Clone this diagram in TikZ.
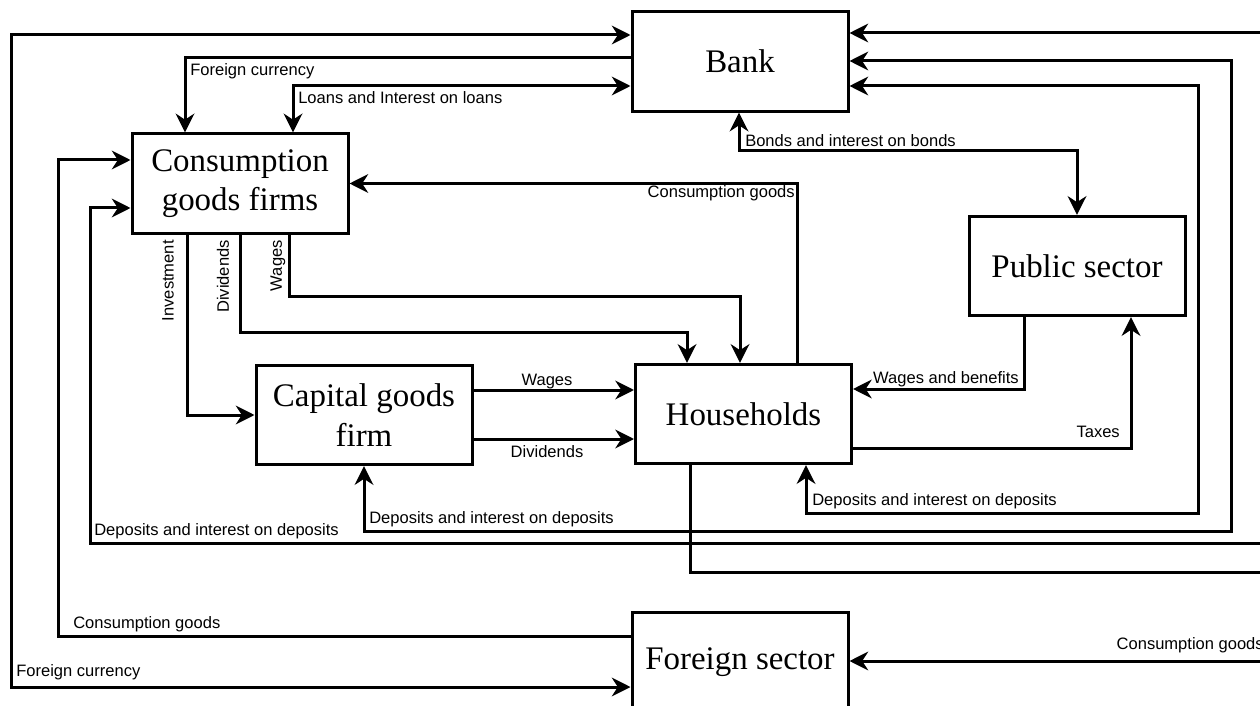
\documentclass[tikz,border=0pt]{standalone}
\usepackage{fontspec}
\setmainfont{Liberation Serif}
\newfontfamily\lblfont{Liberation Sans}
\usetikzlibrary{arrows.meta}
\begin{document}
\begin{tikzpicture}[x=0.75pt,y=-0.75pt,
  box/.style={draw, line width=2.25pt, minimum width=162pt, minimum height=74.5pt, inner sep=0pt, align=center, font=\fontsize{24.7}{29.5}\selectfont},
  conn/.style={line width=2.25pt},
  arr/.style={conn, -{Stealth[length=14pt,width=14pt,inset=4.5pt]}},
  barr/.style={conn, {Stealth[length=14pt,width=14pt,inset=4.5pt]}-{Stealth[length=14pt,width=14pt,inset=4.5pt]}},
  lbl/.style={font=\lblfont\fontsize{12.4}{14}\selectfont, inner sep=0pt},
]
\useasboundingbox (0,0) rectangle (1260,706);

% boxes
\node[box] (bank) at (740,61.5) {Bank};
\node[box] (cons) at (240,183.5) {Consumption\\goods firms};
\node[box] (cap)  at (364,415) {Capital goods\\firm};
\node[box] (hh)   at (743.5,414) {Households};
\node[box] (pub)  at (1077,266) {Public sector};
\node[box] (for)  at (740,662) {Foreign sector};

% free ends at the right edge
\coordinate (eTop) at (1260,33);
\coordinate (eDep) at (1260,543);
\coordinate (eHh)  at (1260,572);
\coordinate (eFor) at (1260,661);

% foreign currency (foreign sector <-> bank)
\draw[barr] (bank.west |- 0,35) -| (11,687) -- (for.west |- 0,687);
\node[lbl, anchor=west] (lFc1) at (16,672) {Foreign currency};

% foreign currency bank -> consumption firms
\draw[arr] (bank.west |- 0,58) -| (cons.north -| 185,0);
\node[lbl, anchor=west] (lFc2) at (190,71) {Foreign currency};

% loans
\draw[barr] (bank.west |- 0,86) -| (cons.north -| 293,0);
\node[lbl, anchor=west] (lLoan) at (298,98) {Loans and Interest on loans};

% bonds
\draw[barr] (bank.south -| 739,0) |- (1077,151) -- (pub.north);
\node[lbl, anchor=west] (lBond) at (745,141) {Bonds and interest on bonds};

% consumption goods households -> consumption firms
\draw[arr] (hh.north -| 797,0) |- (cons.east);
\node[lbl, anchor=east] (lCg1) at (795,193) {Consumption goods};

% investment, dividends, wages from consumption firms
\draw[arr] (cons.south -| 187,0) |- (cap.west);
\node[lbl, rotate=90, anchor=east] (lInv) at (168,240) {Investment};
\draw[arr] (cons.south -| 240,0) |- (687,332) -- (hh.north -| 687,0);
\node[lbl, rotate=90, anchor=east] (lDiv1) at (223,240) {Dividends};
\draw[arr] (cons.south -| 289,0) |- (740,296) -- (hh.north -| 740,0);
\node[lbl, rotate=90, anchor=east] (lWag1) at (278,240) {Wages};

% capital goods firm -> households
\draw[arr] (cap.east |- 0,390) -- (hh.west |- 0,390);
\node[lbl] (lWag2) at (547,382) {Wages};
\draw[arr] (cap.east |- 0,439) -- (hh.west |- 0,439);
\node[lbl] (lDiv2) at (547,452) {Dividends};

% public sector <-> households
\draw[arr] (pub.south -| 1024,0) |- (hh.east |- 0,389);
\node[lbl, anchor=east] (lWb) at (1019,379) {Wages and benefits};
\draw[arr] (hh.east |- 0,448) -| (pub.south -| 1131,0);
\node[lbl, anchor=east] (lTax) at (1120,432) {Taxes};

% deposits
\draw[barr] (bank.east |- 0,86) -| (1198,513) -| (hh.south -| 806,0);
\node[lbl, anchor=west] (lDep1) at (812,501) {Deposits and interest on deposits};
\draw[barr] (bank.east |- 0,61) -| (1231,531) -| (cap.south -| 364,0);
\node[lbl, anchor=west] (lDep2) at (369,519) {Deposits and interest on deposits};
\draw[arr] (eDep) -| (90,208) -- (cons.west |- 0,208);
\node[lbl, anchor=west] (lDep3) at (94,531) {Deposits and interest on deposits};

% top right into bank
\draw[arr] (eTop) -- (bank.east |- eTop);

% households bottom to the right
\draw[conn] (hh.south -| 690,0) |- (eHh);

% consumption goods foreign sector -> consumption firms
\draw[arr] (for.west |- 0,636) -| (58,160) -- (cons.west |- 0,160);
\node[lbl, anchor=west] (lCg2) at (73,624) {Consumption goods};

% consumption goods into foreign sector
\draw[arr] (eFor) -- (for.east |- eFor);
\node[lbl, anchor=east] (lCg3) at (1264,645) {Consumption goods};
\end{tikzpicture}
\end{document}
